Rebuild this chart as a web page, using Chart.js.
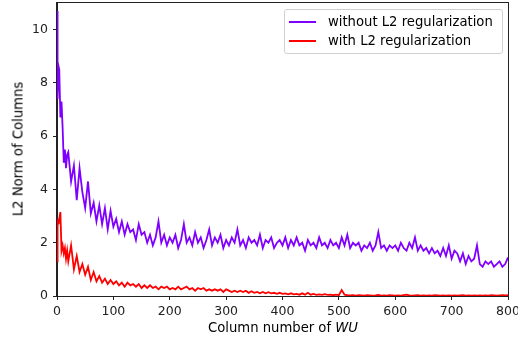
<!DOCTYPE html>
<html>
<head>
<meta charset="utf-8">
<script src="https://cdn.jsdelivr.net/npm/chart.js@4.4.1/dist/chart.umd.min.js"></script>
<style>
  html, body { margin: 0; padding: 0; background: #fff; }
  #wrap { position: relative; width: 518px; height: 343px; font-family: 'DejaVu Sans', sans-serif; color: #000; }
  canvas { position: absolute; left: 0; top: 0; }
  .legend { position: absolute; left: 284px; top: 9px; width: 217px; height: 43px; border: 1px solid #d0d0d0; border-radius: 3px; background: rgba(255,255,255,0.8); font-size: 13.2px; }
  .row { position: absolute; left: 0; height: 16px; line-height: 16px; white-space: nowrap; }
  .swatch { position: absolute; left: 4px; top: 7px; width: 27px; height: 2px; }
  .lbl { position: absolute; left: 43px; top: 0; }
  .xtitle { position: absolute; left: 0; width: 566px; top: 320px; text-align: center; font-size: 13.2px; white-space: nowrap; }
  .ytitle { position: absolute; left: 18px; top: 149px; transform: translate(-50%, -50%) rotate(-90deg); font-size: 13.2px; white-space: nowrap; }
</style>
</head>
<body>
<div id="wrap">
  <canvas id="chart" width="518" height="343"></canvas>
  <div class="legend">
    <div class="row" style="top:4px"><span class="swatch" style="background:#8000ff"></span><span class="lbl">without L2 regularization</span></div>
    <div class="row" style="top:23px"><span class="swatch" style="background:#ff0000"></span><span class="lbl">with L2 regularization</span></div>
  </div>
  <div class="xtitle">Column number of <i>WU</i></div>
  <div class="ytitle">L2 Norm of Columns</div>
</div>
<script>
// column index: finer at the start, then every 5th column up to 800
const columns = [0, 1, 2, 3, 4, 6, 8, 10, 12, 14, 16, 18];
for (let c = 20; c <= 800; c += 5) columns.push(c);

// L2 norm per column
const withoutL2 = [
  10.7, 7.4, 8.0, 8.6, 8.5, 6.7, 7.3, 6.3, 5.0, 5.5, 4.8, 5.3,
  5.4, 4.3, 4.9, 3.6, 4.8, 3.9,
  3.3, 4.3, 3.1, 3.5, 2.8, 3.4, 2.7, 3.3, 2.5, 3.2,
  2.6, 2.9, 2.4, 2.8, 2.3, 2.7, 2.4, 2.5, 2.1, 2.7,
  2.3, 2.4, 2.0, 2.3, 1.9, 2.2, 2.8, 2.0, 2.3, 1.9,
  2.2, 2.0, 2.3, 1.8, 2.1, 2.7, 2.0, 2.2, 1.9, 2.4,
  2.0, 2.2, 1.8, 2.1, 2.5, 1.9, 2.2, 2.0, 2.3, 1.8,
  2.1, 1.9, 2.2, 2.0, 2.5, 1.9, 2.1, 1.8, 2.2, 2.0,
  2.1, 1.9, 2.3, 1.8, 2.1, 2.0, 2.2, 1.8, 2.0, 2.1,
  1.9, 2.2, 1.8, 2.1, 1.9, 2.2, 1.9, 2.0, 1.7, 2.1,
  1.9, 2.0, 1.8, 2.2, 1.9, 2.0, 1.8, 2.1, 1.9, 2.0,
  1.8, 2.2, 1.9, 2.3, 1.8, 2.0, 1.9, 2.0, 1.7, 1.9,
  1.8, 2.0, 1.7, 1.9, 2.4, 1.8, 1.9, 1.7, 1.9, 1.8,
  1.9, 1.7, 2.0, 1.8, 1.7, 2.0, 1.8, 2.2, 1.7, 1.9,
  1.7, 1.8, 1.6, 1.8, 1.6, 1.7, 1.5, 1.8, 1.5, 1.9,
  1.4, 1.7, 1.6, 1.3, 1.6, 1.2, 1.5, 1.3, 1.4, 1.9,
  1.2, 1.1, 1.3, 1.2, 1.3, 1.1, 1.2, 1.3, 1.1, 1.2,
  1.45
];

const withL2 = [
  1.3, 2.6, 2.9, 2.7, 2.9, 3.15, 1.7, 1.9, 1.6, 1.8, 1.4, 1.7,
  1.3, 1.9, 1.0, 1.5, 0.9, 1.2,
  0.8, 1.1, 0.6, 0.9, 0.55, 0.75, 0.5, 0.65, 0.45, 0.6,
  0.45, 0.55, 0.4, 0.5, 0.35, 0.5, 0.4, 0.45, 0.35, 0.45,
  0.3, 0.4, 0.3, 0.4, 0.3, 0.35, 0.25, 0.35, 0.3, 0.35,
  0.25, 0.3, 0.25, 0.35, 0.25, 0.3, 0.35, 0.25, 0.3, 0.2,
  0.3, 0.25, 0.3, 0.2, 0.25, 0.2, 0.25, 0.2, 0.25, 0.15,
  0.25, 0.2, 0.15, 0.2, 0.15, 0.2, 0.15, 0.2, 0.12, 0.18,
  0.12, 0.15, 0.1, 0.15, 0.1, 0.14, 0.1, 0.12, 0.08, 0.12,
  0.08, 0.1, 0.06, 0.1, 0.06, 0.08, 0.05, 0.1, 0.05, 0.12,
  0.05, 0.08, 0.04, 0.06, 0.04, 0.07, 0.04, 0.05, 0.03, 0.05,
  0.03, 0.22, 0.05, 0.03, 0.02, 0.03, 0.01, 0.03, 0.02, 0.01,
  0.03, 0.02, 0.01, 0.02, 0.04, 0.01, 0.02, 0.01, 0.03, 0.02,
  0.01, 0.02, 0.01, 0.03, 0.05, 0.02, 0.01, 0.02, 0.03, 0.01,
  0.02, 0.01, 0.02, 0.01, 0.03, 0.02, 0.01, 0.02, 0.01, 0.02,
  0.01, 0.02, 0.01, 0.02, 0.03, 0.01, 0.02, 0.01, 0.02, 0.01,
  0.02, 0.01, 0.02, 0.01, 0.03, 0.02, 0.01, 0.02, 0.03, 0.02,
  0.03
];

const xTicks = [0, 100, 200, 300, 400, 500, 600, 700, 800];
const yTicks = [0, 2, 4, 6, 8, 10];

const toPoints = arr => arr.map((v, i) => ({ x: columns[i], y: v }));

// black frame around the plot area, like matplotlib spines
const framePlugin = {
  id: 'frame',
  afterDraw(chart) {
    const a = chart.chartArea, ctx = chart.ctx;
    ctx.save();
    ctx.strokeStyle = '#222';
    ctx.lineWidth = 1;
    ctx.strokeRect(Math.round(a.left) - 0.5, Math.round(a.top) - 0.5, Math.round(a.right - a.left) + 1, Math.round(a.bottom - a.top) + 1);
    ctx.restore();
  }
};

const tickFont = { family: "'DejaVu Sans', sans-serif", size: 12.5 };

new Chart(document.getElementById('chart'), {
  type: 'line',
  data: {
    datasets: [
      { label: 'without L2 regularization', data: toPoints(withoutL2), borderColor: '#8000ff', borderWidth: 1.8, pointRadius: 0, tension: 0 },
      { label: 'with L2 regularization', data: toPoints(withL2), borderColor: '#ff0000', borderWidth: 1.8, pointRadius: 0, tension: 0 }
    ]
  },
  options: {
    responsive: false,
    animation: false,
    layout: { padding: { left: 0, right: 10, top: 3, bottom: 0 } },
    plugins: { legend: { display: false }, tooltip: { enabled: false } },
    scales: {
      x: {
        type: 'linear', min: 0, max: 800,
        afterBuildTicks: s => { s.ticks = xTicks.map(v => ({ value: v })); },
        afterFit: s => { s.height = 47; s.paddingLeft = 0; s.paddingRight = 0; },
        grid: { drawOnChartArea: false, tickLength: 4, color: '#222' },
        border: { display: true, color: '#222' },
        ticks: { font: tickFont, color: '#222', padding: 4, maxRotation: 0 }
      },
      y: {
        min: 0, max: 11,
        afterBuildTicks: s => { s.ticks = yTicks.map(v => ({ value: v })); },
        afterFit: s => { s.width = 57; s.paddingTop = 0; s.paddingBottom = 0; },
        grid: { drawOnChartArea: false, tickLength: 4, color: '#222' },
        border: { display: true, color: '#222' },
        ticks: { font: tickFont, color: '#222', padding: 5 }
      }
    }
  },
  plugins: [framePlugin]
});
</script>
</body>
</html>
